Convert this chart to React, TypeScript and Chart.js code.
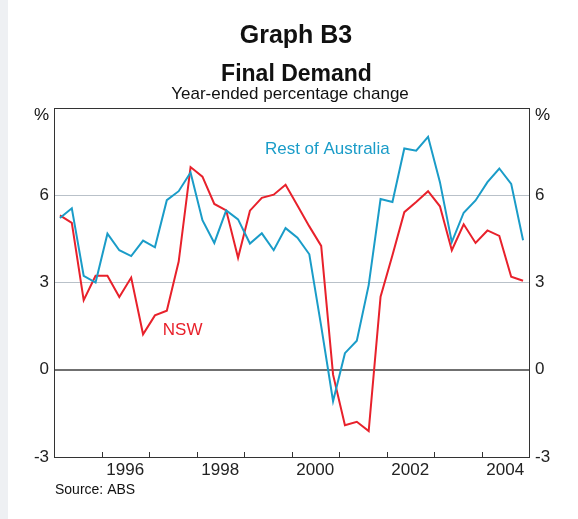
import React, { useEffect, useRef } from "react";
import { Chart, registerables } from "chart.js";

Chart.register(...registerables);

const FONT = '"Liberation Sans", Arial, Helvetica, sans-serif';

const years = [1995, 1996, 1997, 1998, 1999, 2000, 2001, 2002, 2003, 2004];
const quarterNames = ["Mar", "Jun", "Sep", "Dec"];
const quarters: string[] = years.flatMap((y) => quarterNames.map((q) => `${q} ${y}`));

const restOfAustralia = [
  5.22, 5.55, 3.23, 3.0, 4.68, 4.11, 3.91, 4.44, 4.21, 5.83,
  6.14, 6.78, 5.14, 4.36, 5.48, 5.17, 4.34, 4.69, 4.11, 4.87,
  4.54, 3.97, 1.5, -1.08, 0.57, 1.0, 2.91, 5.87, 5.77, 7.61,
  7.53, 8.01, 6.45, 4.39, 5.4, 5.82, 6.45, 6.92, 6.39, 4.45,
];

const nsw = [
  5.31, 5.05, 2.39, 3.23, 3.23, 2.5, 3.17, 1.22, 1.87, 2.03,
  3.72, 6.97, 6.64, 5.7, 5.48, 3.85, 5.47, 5.91, 6.02, 6.36,
  5.65, 4.93, 4.26, -0.17, -1.91, -1.79, -2.11, 2.51, 3.94, 5.42,
  5.77, 6.14, 5.62, 4.11, 5.0, 4.36, 4.79, 4.6, 3.2, 3.06,
];

const yearTickMarks = [1996, 1997, 1998, 1999, 2000, 2001, 2002, 2003, 2004];
const yearLabels = ["1996", "1998", "2000", "2002", "2004"];
const yTicks = [-3, 0, 3, 6, 9];

const BLUE = "#1a9cc8";
const RED = "#e8212b";

function quarterToX(q: string): number {
  const [m, y] = q.split(" ");
  return Number(y) + quarterNames.indexOf(m) * 0.25 + 0.125;
}

const decorPlugin = {
  id: "decor",
  afterDraw(chart: any) {
    const { ctx, chartArea, scales } = chart;
    const x = scales.x;
    const y = scales.y;
    ctx.save();
    // inward year tick marks
    ctx.strokeStyle = "#333";
    ctx.lineWidth = 1;
    for (const yr of yearTickMarks) {
      const px = Math.round(x.getPixelForValue(yr)) + 0.5;
      ctx.beginPath();
      ctx.moveTo(px, chartArea.bottom);
      ctx.lineTo(px, chartArea.bottom - 5);
      ctx.stroke();
    }
    // titles
    ctx.fillStyle = "#111";
    ctx.textAlign = "center";
    ctx.textBaseline = "alphabetic";
    ctx.font = `bold 25px ${FONT}`;
    ctx.fillText("Graph B3", 296, 43);
    ctx.font = `bold 23px ${FONT}`;
    ctx.fillText("Final Demand", 296.5, 81);
    ctx.font = `17px ${FONT}`;
    ctx.fillText("Year-ended percentage change", 290, 99);
    // % unit labels
    const pctY = y.getPixelForValue(9) + 7.5;
    ctx.textBaseline = "middle";
    ctx.textAlign = "right";
    ctx.fillText("%", chartArea.left - 5, pctY);
    ctx.textAlign = "left";
    ctx.fillText("%", chartArea.right + 6, pctY);
    // source
    ctx.font = `14px ${FONT}`;
    ctx.fillText("Source: ABS", 55, 490);
    // series labels
    ctx.font = `17px ${FONT}`;
    ctx.fillStyle = BLUE;
    ctx.fillText("Rest of Australia", x.getPixelForValue(1999.44), y.getPixelForValue(7.58));
    ctx.fillStyle = RED;
    ctx.fillText("NSW", x.getPixelForValue(1997.29), y.getPixelForValue(1.35));
    ctx.restore();
  },
};

export default function App() {
  const ref = useRef<HTMLCanvasElement | null>(null);

  useEffect(() => {
    if (!ref.current) return;
    const tickFont = { family: FONT, size: 17 };
    const chart = new Chart(ref.current, {
      type: "line",
      data: {
        datasets: [
          {
            label: "Rest of Australia",
            data: quarters.map((q, i) => ({ x: quarterToX(q), y: restOfAustralia[i] })),
            borderColor: BLUE,
            borderWidth: 2,
            pointRadius: 0,
            tension: 0,
          },
          {
            label: "NSW",
            data: quarters.map((q, i) => ({ x: quarterToX(q), y: nsw[i] })),
            borderColor: RED,
            borderWidth: 2,
            pointRadius: 0,
            tension: 0,
          },
        ],
      },
      options: {
        animation: false,
        responsive: false,
        layout: { padding: { top: 108, left: 0, right: 0, bottom: 0 } },
        plugins: { legend: { display: false }, tooltip: { enabled: false }, title: { display: false } },
        scales: {
          x: {
            type: "linear",
            position: "bottom",
            min: 1995,
            max: 2005,
            afterBuildTicks: (s: any) => {
              s.ticks = yearLabels.map((l) => ({ value: Number(l) + 0.5 }));
            },
            afterFit: (s: any) => {
              s.height = 62;
            },
            grid: { display: false, drawTicks: false },
            border: { display: true, color: "#333", width: 1 },
            ticks: {
              autoSkip: false,
              maxRotation: 0,
              padding: 3,
              color: "#222",
              font: tickFont,
              callback: (v: any) => String(Math.floor(Number(v))),
            },
          },
          y: {
            position: "left",
            min: -3,
            max: 9,
            afterBuildTicks: (s: any) => {
              s.ticks = yTicks.map((v) => ({ value: v }));
            },
            afterFit: (s: any) => {
              s.width = 54;
            },
            grid: {
              drawTicks: false,
              color: (c: any) => {
                const v = c.tick ? c.tick.value : null;
                if (v === 0) return "#707070";
                if (v === 9 || v === -3) return "#333";
                return "#b9c1c9";
              },
              lineWidth: (c: any) => (c.tick && c.tick.value === 0 ? 2 : 1),
            },
            border: { display: true, color: "#333", width: 1 },
            ticks: {
              padding: 5,
              color: "#222",
              font: tickFont,
              callback: (v: any) => (Number(v) === 9 ? "" : String(v)),
            },
          },
          y2: {
            position: "right",
            min: -3,
            max: 9,
            afterBuildTicks: (s: any) => {
              s.ticks = yTicks.map((v) => ({ value: v }));
            },
            afterFit: (s: any) => {
              s.width = 49;
            },
            grid: { display: false, drawTicks: false },
            border: { display: true, color: "#333", width: 1 },
            ticks: {
              padding: 6,
              color: "#222",
              font: tickFont,
              callback: (v: any) => (Number(v) === 9 ? "" : String(v)),
            },
          },
        },
      },
      plugins: [decorPlugin],
    } as any);
    return () => chart.destroy();
  }, []);

  return (
    <div style={{ position: "fixed", left: 0, top: 0, width: 578, height: 519, background: "#fff" }}>
      <div style={{ position: "absolute", left: 0, top: 0, width: 8, height: 519, background: "#eef0f3" }} />
      <canvas ref={ref} width={578} height={519} style={{ position: "absolute", left: 0, top: 0, width: 578, height: 519 }} />
    </div>
  );
}
